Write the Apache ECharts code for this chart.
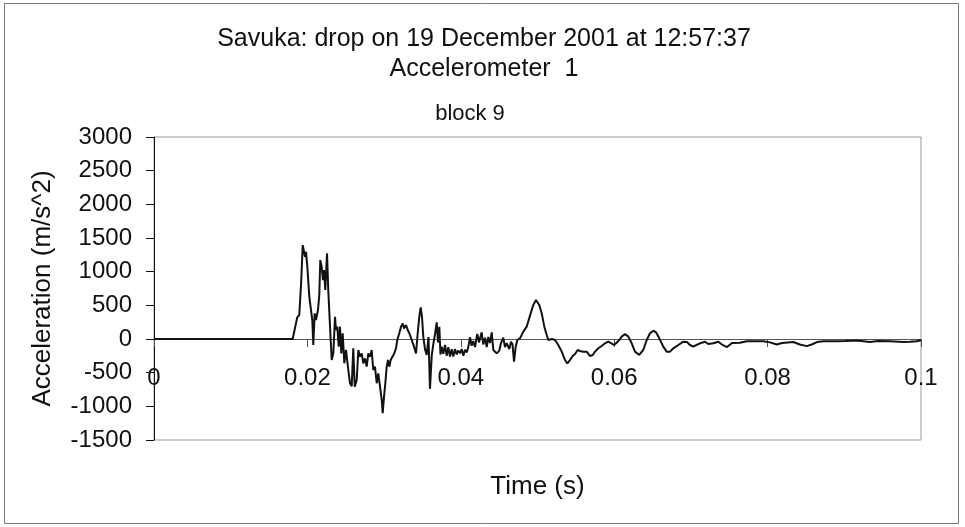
<!DOCTYPE html>
<html>
<head>
<meta charset="utf-8">
<script src="https://cdn.jsdelivr.net/npm/echarts@6/dist/echarts.min.js"></script>
<style>
html,body{margin:0;padding:0;background:#fff;}
#chart{width:965px;height:527px;}
</style>
</head>
<body>
<div id="chart"></div>
<script>
// Time (s)
var timeS = [0, 0.01808, 0.01868, 0.01894, 0.01920, 0.01939, 0.01952, 0.01969, 0.01982, 0.01999,
  0.02025, 0.02047, 0.02064, 0.02077, 0.02095, 0.02112, 0.02138, 0.02155, 0.02168, 0.02186,
  0.02203, 0.02216, 0.02233, 0.02256, 0.02272, 0.02295, 0.02317, 0.02338, 0.02360, 0.02373,
  0.02390, 0.02408, 0.02425, 0.02442, 0.02460, 0.02481, 0.02503, 0.02533, 0.02555, 0.02578,
  0.02598, 0.02617, 0.02643, 0.02664, 0.02686, 0.02708, 0.02729, 0.02751, 0.02773, 0.02794,
  0.02816, 0.02838, 0.02859, 0.02881, 0.02904, 0.02924, 0.02947, 0.02969, 0.02982, 0.02999,
  0.03016, 0.03034, 0.03051, 0.03068, 0.03086, 0.03112, 0.03133, 0.03155, 0.03172, 0.03198,
  0.03220, 0.03243, 0.03259, 0.03286, 0.03308, 0.03329, 0.03360, 0.03390, 0.03416, 0.03438,
  0.03459, 0.03477, 0.03494, 0.03511, 0.03533, 0.03555, 0.03579, 0.03598, 0.03621, 0.03641,
  0.03664, 0.03686, 0.03703, 0.03720, 0.03735, 0.03751, 0.03772, 0.03794, 0.03816, 0.03837,
  0.03859, 0.03881, 0.03902, 0.03924, 0.03946, 0.03967, 0.03990, 0.04012, 0.04033, 0.04055,
  0.04077, 0.04098, 0.04120, 0.04142, 0.04163, 0.04185, 0.04215, 0.04237, 0.04272, 0.04293,
  0.04316, 0.04338, 0.04359, 0.04381, 0.04403, 0.04424, 0.04446, 0.04468, 0.04502, 0.04524,
  0.04554, 0.04576, 0.04598, 0.04615, 0.04632, 0.04655, 0.04674, 0.04694, 0.04716, 0.04737,
  0.04772, 0.04815, 0.04859, 0.04880, 0.04911, 0.04945, 0.04980, 0.04997, 0.05023, 0.05055,
  0.05089, 0.05120, 0.05141, 0.05163, 0.05189, 0.05228, 0.05271, 0.05316, 0.05359, 0.05389,
  0.05424, 0.05459, 0.05489, 0.05524, 0.05554, 0.05597, 0.05641, 0.05684, 0.05720, 0.05750,
  0.05793, 0.05837, 0.05880, 0.05923, 0.05945, 0.05997, 0.06037, 0.06066, 0.06098, 0.06141,
  0.06184, 0.06228, 0.06271, 0.06327, 0.06379, 0.06424, 0.06467, 0.06510, 0.06545, 0.06588,
  0.06640, 0.06684, 0.06728, 0.06771, 0.06836, 0.06901, 0.06949, 0.06988, 0.07031, 0.07080,
  0.07119, 0.07184, 0.07227, 0.07292, 0.07357, 0.07405, 0.07471, 0.07536, 0.07640, 0.07728,
  0.07858, 0.07944, 0.08031, 0.08119, 0.08188, 0.08335, 0.08422, 0.08510, 0.08575, 0.08644,
  0.08726, 0.08901, 0.09009, 0.09162, 0.09335, 0.09439, 0.09596, 0.09769, 0.09857, 0.09944,
  0.10000];

// Acceleration (m/s^2)
var accel = [0, 0, 322, 356, 875, 1395, 1420, 1221, 1295, 1073,
  628, 430, 282, -89, 381, 282, 430, 653, 1172, 1073,
  875, 1024, 727, 1271, 727, 183, -312, -213, 331, 134,
  183, -114, 183, -213, 85, -361, -163, -460, -657, -700,
  -138, -708, -608, -163, -262, -213, -361, -287, -411, -213,
  -262, -163, -460, -411, -657, -510, -708, -905, -1102, -856,
  -657, -411, -312, -411, -312, -312, -213, -138, -15, 85,
  183, 232, 158, 208, 134, 85, -15, -114, -213, 85,
  331, 470, 331, 35, -150, -237, 30, -740, -248, -80,
  74, 247, -50, 180, -230, -114, -220, -89, -248, -120,
  -262, -150, -260, -150, -230, -170, -213, -150, -250, -160,
  -200, -120, 25, -100, -30, -120, 74, -50, 99, -80,
  20, -120, 30, -60, 99, -163, -149, -213, -173, -60,
  20, -120, -60, -50, -149, -40, -80, -336, -114, -15,
  10, 109, 183, 208, 381, 504, 579, 588, 504, 381,
  183, 59, -15, 10, 0, -15, -89, -188, -312, -361,
  -312, -252, -223, -163, -178, -188, -188, -252, -238, -188,
  -138, -104, -64, -40, -64, -89, -50, -15, 35, 74,
  35, -64, -188, -237, -163, -15, 85, 123, 100, 10,
  -114, -188, -188, -138, -89, -40, -45, -89, -114, -85,
  -64, -40, -75, -64, -40, -82, -120, -60, -55, -33,
  -33, -33, -50, -82, -60, -45, -82, -106, -82, -45,
  -33, -33, -30, -24, -45, -30, -33, -45, -42, -33,
  -20];

var titleLines = ['Savuka: drop on 19 December 2001 at 12:57:37', 'Accelerometer  1', 'block 9'];
var xAxisName = 'Time (s)';
var yAxisName = 'Acceleration (m/s^2)';

var FONT = 'Liberation Sans, Arial, sans-serif';
var seriesData = timeS.map(function (t, i) { return [t, accel[i]]; });

var chart = echarts.init(document.getElementById('chart'), null, {renderer: 'canvas'});
chart.setOption({
  animation: false,
  backgroundColor: '#fff',
  title: [
    {text: titleLines[0], left: 484, top: 27, textAlign: 'center', padding: 0,
     textStyle: {fontFamily: FONT, fontSize: 25, fontWeight: 'normal', color: '#111'}},
    {text: titleLines[1], left: 484, top: 57, textAlign: 'center', padding: 0,
     textStyle: {fontFamily: FONT, fontSize: 25, fontWeight: 'normal', color: '#111'}},
    {text: titleLines[2], left: 470, top: 103, textAlign: 'center', padding: 0,
     textStyle: {fontFamily: FONT, fontSize: 22, fontWeight: 'normal', color: '#111'}}
  ],
  graphic: [
    {type: 'rect', shape: {x: 4.5, y: 3.5, width: 954, height: 520}, silent: true, z: -10,
     style: {fill: 'none', stroke: '#777', lineWidth: 1}}
  ],
  grid: {left: 154, top: 137, right: 44, bottom: 87, show: true, borderColor: '#999', borderWidth: 1,
         backgroundColor: 'transparent', containLabel: false, outerBoundsMode: 'none'},
  xAxis: {
    type: 'value', min: 0, max: 0.1, interval: 0.02, position: 'bottom', offset: -101,
    name: xAxisName, nameLocation: 'middle', nameGap: 135,
    nameTextStyle: {fontFamily: FONT, fontSize: 26, color: '#111'},
    axisLine: {onZero: false, lineStyle: {color: '#555', width: 1}},
    axisTick: {show: true, length: 8, lineStyle: {color: '#555'}},
    axisLabel: {fontFamily: FONT, fontSize: 24, color: '#111', margin: 27,
      formatter: function (v) { return String(+(+v).toFixed(2)); }},
    splitLine: {show: false}
  },
  yAxis: {
    type: 'value', min: -1500, max: 3000, interval: 500,
    name: yAxisName, nameLocation: 'middle', nameGap: 98, nameRotate: 90,
    nameTextStyle: {fontFamily: FONT, fontSize: 26, color: '#111'},
    axisLine: {show: true, onZero: false, lineStyle: {color: '#111', width: 1}},
    axisTick: {show: true, length: 8, lineStyle: {color: '#111'}},
    axisLabel: {fontFamily: FONT, fontSize: 24, color: '#111', margin: 22,
      formatter: function (v) { return String(Math.round(v)); }},
    splitLine: {show: false}
  },
  series: [{
    type: 'line', data: seriesData, showSymbol: false, smooth: false,
    lineStyle: {color: '#111', width: 2}, z: 3
  }]
});
</script>
</body>
</html>
